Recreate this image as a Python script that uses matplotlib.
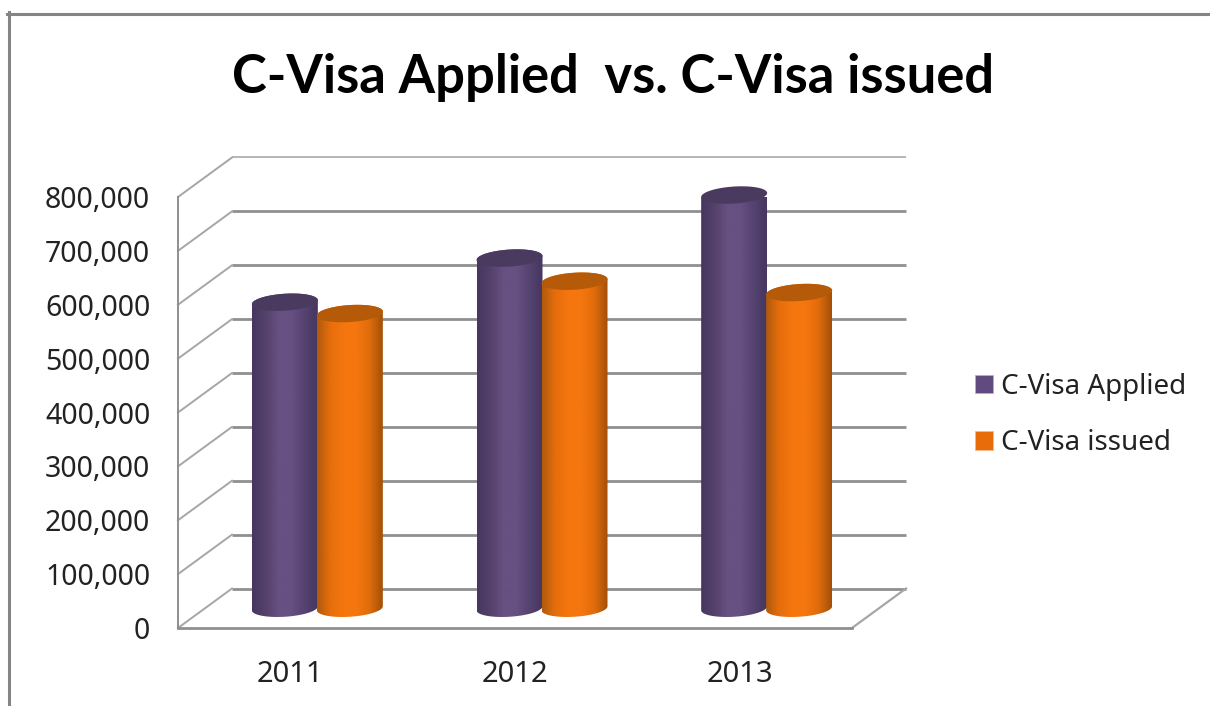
import numpy as np
import matplotlib
matplotlib.use('Agg')
import matplotlib.pyplot as plt
from matplotlib.colors import LinearSegmentedColormap
from matplotlib.lines import Line2D
from matplotlib.patches import Patch, Polygon

years = ['2011', '2012', '2013']
applied = [568000, 650000, 767000]
issued = [547000, 607000, 586000]
y_ticks = [0, 100000, 200000, 300000, 400000, 500000, 600000, 700000, 800000]

W, H = 1210, 706
FONT = 'Noto Sans'

fig = plt.figure(figsize=(W / 100, H / 100), dpi=100, facecolor='white')
ax = fig.add_axes([178 / W, 1 - 628 / H, 674 / W, 431 / H])
ax.patch.set_alpha(0)
ax.set_xlim(-0.5, 2.5)
ax.set_ylim(0, 800000)

# pixel -> data sizes, so the 3d look follows the axes scale
px_x = 3 / 674
px_y = 800000 / 431
depth_x = 54 * px_x
depth_y = 39.5 * px_y

# walls
GRID = '#8f8f8f'
for v in y_ticks:
    lw = 1.4 if v == y_ticks[-1] else 2.0
    col = '#b5b5b5' if v == y_ticks[-1] else GRID
    ax.plot([-0.5 + depth_x, 2.5 + depth_x], [v + depth_y, v + depth_y], color=col, lw=lw,
            clip_on=False, zorder=1, solid_capstyle='butt')
    ax.plot([-0.5, -0.5 + depth_x], [v, v + depth_y], color='#a6a6a6', lw=1.4, clip_on=False, zorder=1)
ax.plot([2.5, 2.5 + depth_x], [0, depth_y], color='#a6a6a6', lw=1.6, clip_on=False, zorder=1)

for side in ['top', 'right']:
    ax.spines[side].set_visible(False)
for side in ['left', 'bottom']:
    ax.spines[side].set_color(GRID)
ax.spines['left'].set_linewidth(1.4)
ax.spines['bottom'].set_linewidth(2.0)

purple = LinearSegmentedColormap.from_list('p', ['#463660', '#544169', '#675082', '#675082', '#554270', '#463660'])
orange = LinearSegmentedColormap.from_list('o', ['#b05a0c', '#e66e0c', '#f5760e', '#f5760e', '#e06c0c', '#a35008'])
grad = np.linspace(0, 1, 128).reshape(1, -1)


def cylinder(x, value, cmap, top_color, z):
    cx = x + depth_x / 2
    cy = depth_y / 2
    half = 33 * px_x
    t = np.linspace(0, 2 * np.pi, 121)
    ex = half * np.cos(t)
    ey = 8.5 * px_y * np.sin(t) + 2 * px_y * np.cos(t)
    # body outline: lower half of the base, then back over the top
    low = t[60:121]
    bx = cx + half * np.cos(low)
    by = cy + 8.5 * px_y * np.sin(low) + 2 * px_y * np.cos(low)
    hi = t[0:61]
    tx = cx + half * np.cos(hi)
    ty = cy + value + 8.5 * px_y * np.sin(hi) + 2 * px_y * np.cos(hi)
    body = Polygon(np.column_stack([np.r_[bx, tx], np.r_[by, ty]]), closed=True,
                   transform=ax.transData, facecolor='none', edgecolor='none')
    ax.add_patch(body)
    body.set_clip_on(False)
    im = ax.imshow(grad, cmap=cmap, aspect='auto', zorder=z, interpolation='bilinear',
                   extent=[cx - half, cx + half, 0, cy + value + 12 * px_y])
    im.set_clip_path(body)
    ax.fill(cx + ex, cy + value + ey, color=top_color, zorder=z + 0.5, clip_on=False, lw=0)


bar_off = 32.5 * px_x
for i in range(len(years)):
    cylinder(i - bar_off, applied[i], purple, '#4a3a60', 3 + i * 2)
    cylinder(i + bar_off, issued[i], orange, '#b55a08', 4 + i * 2)
ax.set_xlim(-0.5, 2.5)
ax.set_ylim(0, 800000)

ax.set_xticks(range(len(years)))
ax.set_xticklabels(years, fontsize=21, family=FONT, color='#222222')
ax.set_yticks(y_ticks)
ax.set_yticklabels([f'{v:,}' for v in y_ticks], fontsize=20.5, family=FONT, color='#222222')
ax.tick_params(axis='both', length=0)
ax.tick_params(axis='x', pad=23)
ax.tick_params(axis='y', pad=20)

fig.text(613 / W, 1 - 78 / H, 'C-Visa Applied  vs. C-Visa issued', ha='center', va='center',
         fontsize=37.8, fontweight='bold', family='Lato', color='black')

handles = [Patch(facecolor='#604a80', edgecolor='#b9aec8', lw=0.6),
           Patch(facecolor='#e86c0a', edgecolor='#f5b98a', lw=0.6)]
fig.legend(handles, ['C-Visa Applied', 'C-Visa issued'], loc='center left',
           bbox_to_anchor=(950 / W, 1 - 415 / H), frameon=False,
           prop={'family': FONT, 'size': 20}, handlelength=0.65, handleheight=0.65,
           handletextpad=0.3, labelspacing=1.02, labelcolor='#222222')

# outer chart frame, only top and left edges are in the crop
fig.add_artist(Line2D([8.5 / W, 8.5 / W], [0, 1 - 12 / H], color='#858585', lw=2.2, transform=fig.transFigure))
fig.add_artist(Line2D([7 / W, 1], [1 - 13.5 / H, 1 - 13.5 / H], color='#858585', lw=2.2, transform=fig.transFigure))

fig.savefig('out.png', dpi=100)
